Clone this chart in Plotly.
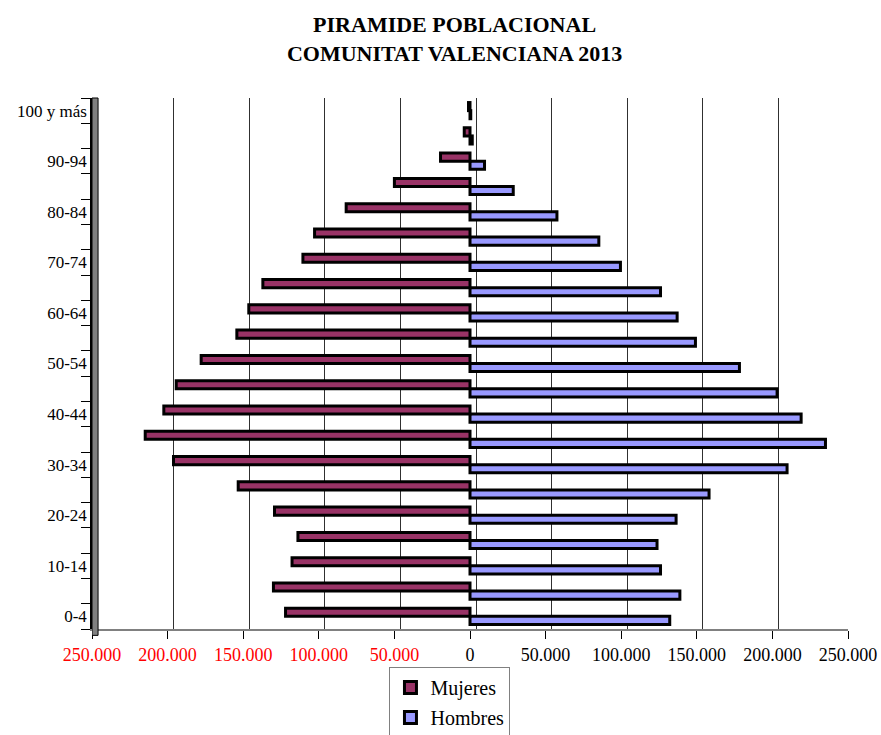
import plotly.graph_objects as go

edades = ["0-4", "5-9", "10-14", "15-19", "20-24", "25-29", "30-34", "35-39",
          "40-44", "45-49", "50-54", "55-59", "60-64", "65-69", "70-74", "75-79",
          "80-84", "85-89", "90-94", "95-99", "100 y más"]
mujeres = [122000, 130000, 117700, 113800, 129300, 153300, 196100, 214800,
           202500, 194300, 177800, 154200, 146300, 137000, 110500, 102800,
           81900, 50000, 19500, 3800, 1000]
hombres = [132100, 138800, 126000, 123700, 136300, 158100, 209700, 235100,
           219000, 203100, 178200, 149100, 137000, 126000, 99500, 85200,
           57500, 28600, 9600, 1500, 500]
x_ticks = [-250000, -200000, -150000, -100000, -50000, 0,
           50000, 100000, 150000, 200000, 250000]
x_labels = ["250.000", "200.000", "150.000", "100.000", "50.000", "0",
            "50.000", "100.000", "150.000", "200.000", "250.000"]

FONT = "Liberation Serif"

ticktext = [
    f'<span style="color:#FF0000">{lab}</span>' if v < 0 else lab
    for v, lab in zip(x_ticks, x_labels)
]
y_text = [e if i % 2 == 0 else "" for i, e in enumerate(edades)]

fig = go.Figure()
fig.add_trace(go.Bar(
    orientation="h", y=edades, x=hombres, name="Hombres",
    marker=dict(color="#9999FF", line=dict(color="black", width=3)),
    legendgroup="h", legendrank=2,
))
fig.add_trace(go.Bar(
    orientation="h", y=edades, x=[-v for v in mujeres], name="Mujeres",
    marker=dict(color="#993366", line=dict(color="black", width=3)),
    legendgroup="m", legendrank=1,
))
# helper trace for the back-wall gridline axis
fig.add_trace(go.Scatter(x=[None], y=[None], xaxis="x2", showlegend=False,
                         hoverinfo="skip"))

fig.update_layout(
    width=881, height=735,
    margin=dict(l=92, r=33, t=98, b=106, autoexpand=False),
    paper_bgcolor="white", plot_bgcolor="white",
    barmode="group", bargap=0.36, bargroupgap=0,
    font=dict(family=FONT, color="black", size=18),
    title=dict(
        text="<b>PIRAMIDE POBLACIONAL<br>COMUNITAT VALENCIANA 2013</b>",
        font=dict(family=FONT, size=22, color="black"),
        x=0.516, xanchor="center", xref="container",
        y=1 - 32.3 / 735, yanchor="top", yref="container",
    ),
    xaxis=dict(
        range=[-250000, 250000], tickmode="array", tickvals=x_ticks,
        ticktext=ticktext, ticks="outside", ticklen=8, tickcolor="black",
        showline=True, linecolor="#808080", linewidth=2,
        showgrid=False, zeroline=False,
        tickfont=dict(family=FONT, size=18, color="black"),
    ),
    xaxis2=dict(
        overlaying="x", range=[-254000, 246000], tickmode="array",
        tickvals=x_ticks[1:], showticklabels=False, ticks="",
        showgrid=True, gridcolor="#303030", gridwidth=1,
        zeroline=False, showline=False,
    ),
    yaxis=dict(
        type="category", categoryorder="array", categoryarray=edades,
        tickmode="array", tickvals=edades, ticktext=y_text,
        tickson="boundaries", ticks="outside", ticklen=9, tickcolor="black",
        showline=True, linecolor="black", linewidth=1.5,
        showgrid=False, zeroline=False,
        tickfont=dict(family=FONT, size=17, color="black"),
    ),
    legend=dict(
        x=0.4735, xanchor="center", y=1 - 667 / 735, yanchor="top",
        yref="container",
        traceorder="grouped", tracegroupgap=1,
        font=dict(family=FONT, size=20, color="black"),
        bordercolor="#808080", borderwidth=1, bgcolor="white",
    ),
    shapes=[dict(
        type="rect", xref="x", yref="paper",
        x0=-250000, x1=-246000, y0=-0.012, y1=1.0,
        fillcolor="#808080", line=dict(color="black", width=1), layer="above",
    )],
)

fig.write_html(
    "out.html",
    config={"displayModeBar": False},
    post_script="document.body.style.margin='0';"
                "document.body.style.overflow='hidden';",
)
